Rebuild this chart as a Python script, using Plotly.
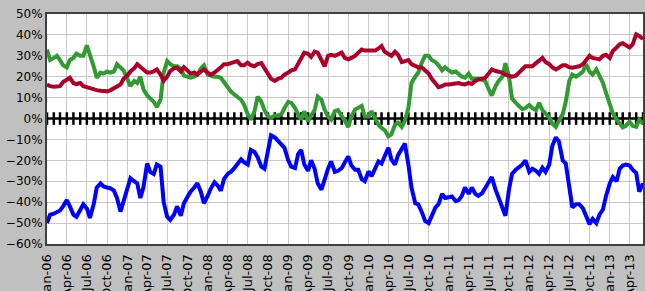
import pandas as pd
import plotly.graph_objects as go

# Half-monthly readings, Jan-2006 .. Jun-2013 (values in %)
green = [33, 28, 29, 30, 28, 25.5, 24.5, 28, 29, 31, 30, 30, 35, 31, 25, 19.5, 22, 21.5, 22.5, 22,
         22.5, 26, 24.5, 23, 19, 15.5, 18, 17, 20, 14, 11, 9.5, 8, 5.5, 9, 22, 27.5, 26, 25, 25,
         24, 20.5, 20, 19.5, 20, 21, 24, 25.5, 21, 20.5, 20, 20, 19.5, 17.5, 15, 13, 11.5, 10.5, 9, 6.5,
         2, -0.5, 3.5, 10.5, 8, 4, 1, 0.3, 1.5, 1.5, 2, 5, 8, 7.5, 5, 2, -0.5, 3.5, -1.3, 1.5,
         4, 10.5, 9, 4.3, 1, -0.5, 3.5, 4, 1.5, -1, -4, 1, 4.3, 5, 6, 1, 1, 3.5, 0, -3,
         -4.5, -5.5, -8.5, -7.5, -3, -2, -4, -1, 5, 17, 20, 22, 27, 30, 30, 28, 27, 25.5, 23, 24.5,
         23, 22, 22.5, 21, 20, 19.5, 21.5, 19, 19, 19, 18.5, 18, 14, 11, 15.5, 18, 20, 26.5, 20, 9.5,
         7.5, 6, 4.5, 5, 6.5, 5, 4, 7.5, 4, 2.5, 0.5, -2.5, -4, -1, 2, 8, 18, 21, 20, 21,
         22.5, 26, 22.5, 21, 23.5, 20.5, 17, 12.3, 7, 2.5, -0.5, -2.5, -4.3, -3.5, -1.5, -3.5, -4, -0.5, -2.5]

red = [16.3, 15.5, 15.2, 15.3, 15.5, 17.5, 18.5, 19.5, 17, 16.5, 17, 15.5, 15, 14.5, 14, 13.6, 13.3, 13, 13, 13.5,
       14.7, 15.5, 16.3, 19, 20.5, 22.5, 24, 26, 25, 23.5, 22, 22, 22.5, 23.5, 21, 18, 20, 22.7, 24, 24.3,
       22.5, 24.5, 23, 21.5, 22, 21, 22.5, 23.5, 22, 21, 22, 23, 24.5, 26, 26, 26.5, 27, 27.5, 25.5, 25.5,
       26.7, 25.5, 25, 26, 26.5, 24.3, 21.5, 19, 18, 19, 19.5, 21, 22, 23, 23.5, 26, 28.5, 31.5, 31, 29.5,
       32, 31.5, 28, 25, 30, 30.5, 30, 30.5, 31.5, 29, 28.3, 29, 30, 31.5, 33, 32.5, 32.5, 32.5, 32.5, 33.5,
       34.7, 32, 31, 30, 32, 30.5, 27, 27.5, 28, 26, 25, 24.5, 24.3, 23, 21.5, 19, 17, 15, 15.5, 16.3,
       16.3, 16.5, 17, 17, 16.5, 16.3, 17, 16.5, 18, 18.7, 19, 19.5, 21.5, 23.5, 22.7, 22.3, 22, 21, 20.5, 20,
       20.5, 22, 23.5, 25, 25, 25, 26.5, 28, 29, 27, 26, 24.5, 23.5, 24.3, 25.5, 25.5, 24.5, 24.3, 24.5, 25,
       26, 28, 30, 29, 28.5, 28.3, 30, 30.5, 29, 32.3, 34, 35.5, 36, 35, 34, 35.5, 40.3, 39.5, 38]

blue = [-50, -46, -45.5, -45, -44, -42, -39, -42, -46, -47, -44, -41, -43, -47.5, -41, -33, -31, -32.5, -33, -33.3,
        -34.5, -38, -44.5, -40, -34, -28.5, -30, -31, -38, -33, -21.5, -25.5, -26.5, -22, -23, -40, -47, -48.5, -46, -42,
        -46.5, -40.5, -37.5, -35, -33, -30.9, -35, -40.5, -37, -33.5, -30.5, -32, -34.5, -29, -26.5, -25.5, -23.7, -22, -19.5, -21,
        -22, -15, -16, -18.5, -23, -24, -15, -8, -9, -10.5, -12, -14, -20, -23, -23.7, -17, -15, -22, -25, -20,
        -24, -31, -34, -29, -24, -20.5, -25.5, -25, -23.7, -21, -18.1, -22.5, -24.5, -24.5, -29, -30, -25.3, -27.5, -24, -20.5,
        -21.5, -18, -14, -19.7, -22, -17.5, -14, -12, -22, -33, -40.5, -41, -45, -49, -50, -46, -42.5, -41, -36, -38,
        -37.5, -37.3, -39.5, -39, -37, -33, -36, -33, -36, -37, -35.7, -33, -30, -28, -34, -38, -43, -46.5, -34, -26.5,
        -24.5, -23.5, -22, -20, -25.5, -24, -25, -26.5, -23.5, -25.5, -22, -13, -9, -11, -20, -21.5, -33, -42.5, -41, -41,
        -43, -46, -50.5, -48, -50, -46, -43.5, -37, -31, -28, -30, -24, -22.5, -22, -22.5, -24.5, -26, -35, -31]

dates = pd.date_range("2006-01-01", periods=len(green), freq="SMS")
zero_dates = pd.date_range("2006-01-01", "2013-06-01", freq="MS")
zero_vals = [0] * len(zero_dates)

fig = go.Figure()
fig.add_trace(go.Scatter(x=zero_dates, y=zero_vals, mode="lines+markers",
                         line=dict(color="black", width=2.5),
                         marker=dict(symbol="line-ns", size=9, line=dict(color="black", width=2.5)),
                         hoverinfo="skip", showlegend=False))
fig.add_trace(go.Scatter(x=dates, y=green, mode="lines", line=dict(color="#339933", width=4), showlegend=False))
fig.add_trace(go.Scatter(x=dates, y=red, mode="lines", line=dict(color="#a8002a", width=4), showlegend=False))
fig.add_trace(go.Scatter(x=dates, y=blue, mode="lines", line=dict(color="#0000ff", width=4), showlegend=False))

fig.update_layout(
    width=645, height=291,
    margin=dict(l=47, r=2, t=14, b=47, autoexpand=False),
    paper_bgcolor="#c0c0c0", plot_bgcolor="white",
    font=dict(family="DejaVu Sans, Verdana", color="black"),
)
fig.update_xaxes(
    type="date", range=["2006-01-01", "2013-06-01"], automargin=False,
    tick0="2006-01-01", dtick="M3", tickformat="%b-%y", tickangle=-90,
    tickfont=dict(size=13), showgrid=True, gridcolor="#c8c8c8", gridwidth=1,
    showline=True, linecolor="#404040", linewidth=2, mirror=True, ticks="outside", ticklen=3,
    tickcolor="#c0c0c0", zeroline=False,
)
fig.update_yaxes(
    range=[-60, 50], dtick=10, ticksuffix="%", tickfont=dict(size=12), automargin=False,
    showgrid=True, gridcolor="#c8c8c8", gridwidth=1,
    showline=True, linecolor="#404040", linewidth=2, mirror=True, ticks="", zeroline=False,
)
fig.write_html(
    "out.html",
    config={"displayModeBar": False},
    post_script="document.body.style.margin='0';document.body.style.background='#c0c0c0';",
)
